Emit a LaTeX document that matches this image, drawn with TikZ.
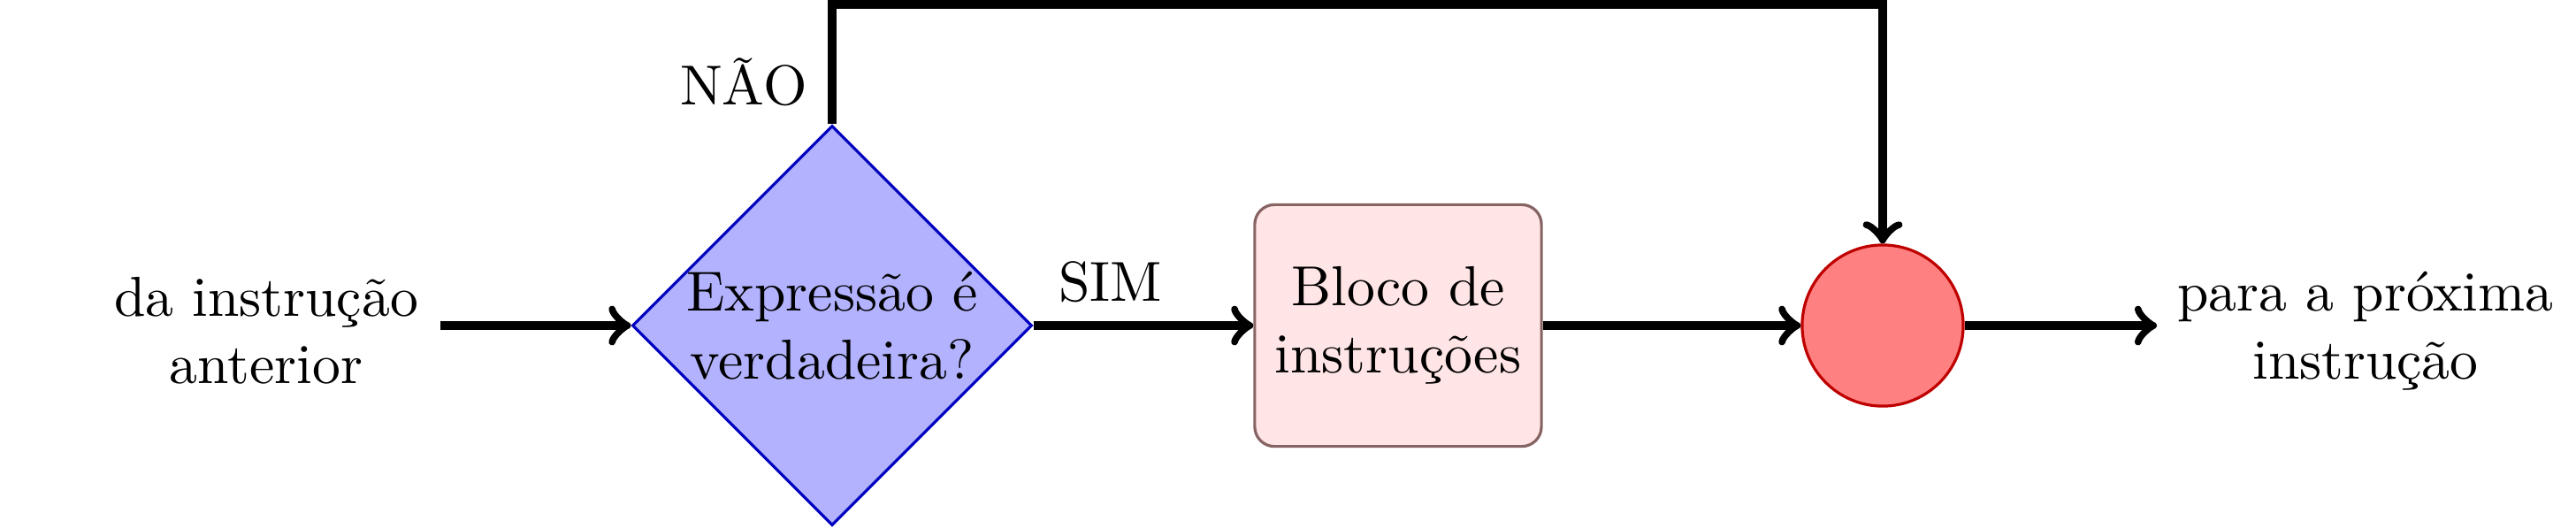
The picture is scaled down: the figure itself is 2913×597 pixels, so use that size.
\documentclass[tikz,border=0pt]{standalone}
\usepackage{fontspec}
\usetikzlibrary{shapes.geometric}
\begin{document}
\begin{tikzpicture}[x=0.157pt,y=-0.157pt,
  conn/.style={->, line width=1.5pt},
  decision/.style={diamond, aspect=1, draw=blue!75!black, fill=blue!30, line width=0.5pt,
    minimum width=70.96pt, minimum height=70.96pt, inner sep=0pt},
  block/.style={rectangle, rounded corners=3.5pt, draw={rgb,255:red,135;green,100;blue,100},
    fill=red!10, line width=0.5pt, minimum width=50.9pt, minimum height=42.9pt, align=center},
  junction/.style={circle, draw=red!75!black, fill=red!50, line width=0.5pt,
    minimum size=28.6pt, inner sep=0pt},
  txt/.style={align=center}]
\useasboundingbox (0,0) rectangle (2913,597);
\node[txt] (src) at (301,374) {da instrução\\anterior};
\coordinate (srcend) at (498,368);
\node[decision, label={[align=center]center:Expressão é\\verdadeira?}] (d) at (941,368) {};
\node[block] (b) at (1581,368) {Bloco de\\instruções};
\node[junction] (c) at (2129,368) {};
\coordinate (dstend) at (2439,368);
\node[txt] (dst) at (2675,374) {para a próxima\\instrução};
\coordinate (top) at (1500,5);
\node[anchor=east] (nao) at (935,93) {NÃO};
\draw[conn] (srcend) -- (d.west);
\draw[conn] (d.east) -- node[above, pos=0.35] (sim) {SIM} (b.west);
\draw[conn] (b.east) -- (c.west);
\draw[conn] (c.east) -- (dstend);
\draw[conn] (d.north) |- (top) -| (c.north);
\end{tikzpicture}
\end{document}
